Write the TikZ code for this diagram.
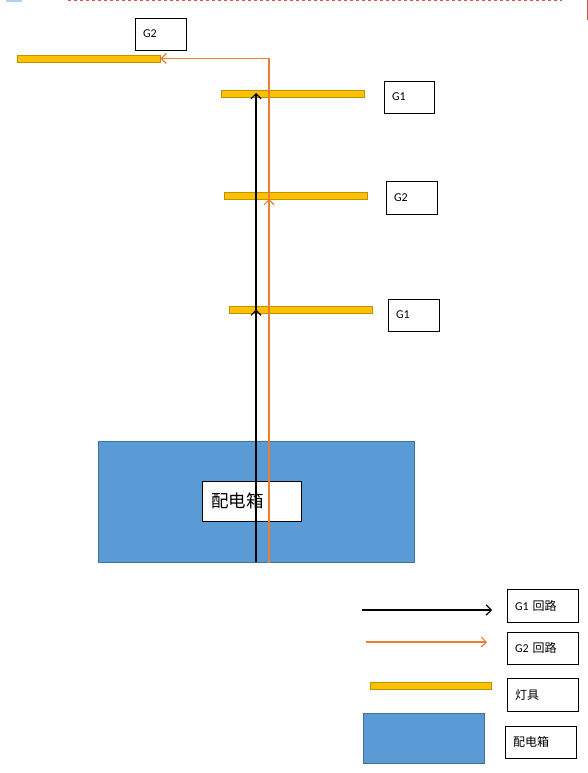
\documentclass[tikz,border=0pt]{standalone}
\usepackage{fontspec}
\setmainfont{Carlito}
\newfontfamily\cjk{Noto Sans CJK SC}
\usetikzlibrary{arrows.meta}
\definecolor{lampfill}{HTML}{FFC000}
\definecolor{lampline}{HTML}{BF9000}
\definecolor{boxfill}{HTML}{5B9BD5}
\definecolor{boxline}{HTML}{41719C}
\definecolor{gtwo}{HTML}{ED7D31}
\definecolor{edge}{HTML}{D9534F}
\begin{document}
\begin{tikzpicture}
  [x=1pt,y=-1pt,
  lamp/.style={draw=lampline,fill=lampfill,line width=.8pt,inner sep=0pt,
    minimum width=143pt,minimum height=7pt},
  tag/.style 2 args={draw,line width=.9pt,inner xsep=8pt,inner ysep=0pt,
    text width=#1-16pt,minimum height=#2,align=left,
    font=\fontsize{12}{14}\selectfont},
  panel/.style={draw=boxline,fill=boxfill,line width=.8pt,inner sep=0pt},
  lineone/.style={black,line width=1.6pt,-{Straight Barb[length=5pt,width=10pt,line width=1.2pt]}},
  linetwo/.style={gtwo,line width=1.6pt,-{Straight Barb[length=5pt,width=10pt,line width=1.2pt]}}]
  \useasboundingbox (0,0) rectangle (588,773);
  % page edge
  \fill[boxfill!45] (6,0) rectangle (22,2);
  \draw[edge,dashed,line width=1pt] (68,1) -- (562,1);
  \draw[edge,line width=1pt] (587,0) -- (587,20);
  % distribution box
  \node[panel,minimum width=316pt,minimum height=121pt] (P) at (256,501.5) {};
  \node[draw,fill=white,line width=.9pt,inner xsep=9pt,inner ysep=0pt,
    text width=81pt,minimum height=40pt,align=left,
    font=\fontsize{17.5}{19}\selectfont\cjk] (M) at (251.5,501) {配电箱};
  % lamps
  \node[lamp] (L0) at (88.5,58.5) {};
  \node[lamp] (L1) at (292.5,93.5) {};
  \node[lamp] (L2) at (295.5,195.5) {};
  \node[lamp] (L3) at (300.5,309.5) {};
  \node[tag={51pt}{32pt}] (T0) at (160.5,34) {G2};
  \node[tag={50pt}{32pt}] (T1) at (409,97) {G1};
  \node[tag={51pt}{33pt}] (T2) at (411.5,197.5) {G2};
  \node[tag={51pt}{32pt}] (T3) at (413.5,315) {G1};
  % circuits
  \path
  (256,562) coordinate (A0)
  (256,309.5) coordinate (A1)
  (256,93) coordinate (A2)
  (269,563) coordinate (B0)
  (269,199) coordinate (B1)
  (269,58.5) coordinate (B2);
  \draw[lineone] (A0) -- (A1);
  \draw[lineone] (A1) -- (A2);
  \draw[linetwo] (B0) -- (B1);
  \draw[linetwo] (B1) -- (B2) -- (L0.east);
  % legend
  \path
  (362,610) coordinate (K0) (492,610) coordinate (K1)
  (366,642) coordinate (K2) (487,642) coordinate (K3);
  \draw[lineone,line width=1.4pt] (K0) -- (K1);
  \draw[linetwo,line width=1.2pt] (K2) -- (K3);
  \node[lamp,minimum width=121pt] (LL) at (430.5,685.5) {};
  \node[panel,minimum width=121pt,minimum height=50pt] (LP) at (423.5,738) {};
  \node[tag={71pt}{33pt}] (N1) at (542.5,605.5) {G1 {\cjk 回路}};
  \node[tag={71pt}{32pt}] (N2) at (542.5,648) {G2 {\cjk 回路}};
  \node[tag={71pt}{33pt}] (N3) at (542.5,694.5) {\cjk 灯具};
  \node[tag={71pt}{32pt}] (N4) at (540.5,742) {\cjk 配电箱};
\end{tikzpicture}
\end{document}
